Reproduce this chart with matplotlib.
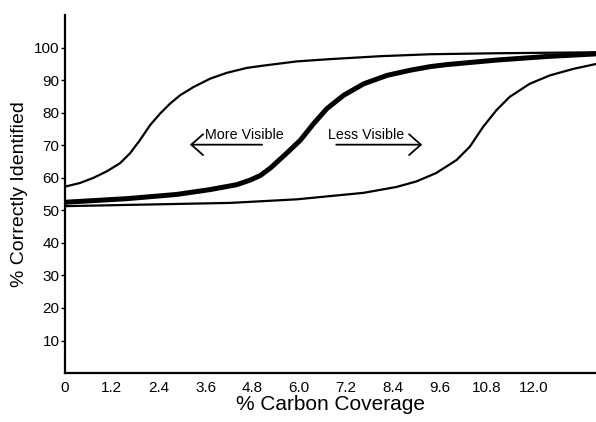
#!/usr/bin/env python3
"""Sigmoid detection curves: % correctly identified vs % carbon coverage."""
import matplotlib
matplotlib.use("Agg")
import matplotlib.pyplot as plt

plt.rcParams["font.family"] = ["Liberation Sans", "DejaVu Sans"]

# values
more_x = [0.0, 0.38, 0.73, 1.07, 1.41, 1.67, 1.92, 2.18, 2.44, 2.69, 2.95, 3.29, 3.72,
          4.15, 4.66, 5.08, 5.94, 6.79, 8.08, 9.36, 11.05, 13.6]
more_y = [57.3, 58.4, 60.0, 62.0, 64.5, 67.6, 71.6, 76.2, 79.8, 82.8, 85.4, 87.9, 90.5,
          92.3, 93.8, 94.5, 95.8, 96.5, 97.4, 98.0, 98.3, 98.6]

base_x = [0.0, 1.58, 2.86, 3.72, 4.4, 4.74, 5.0, 5.26, 5.68, 6.03, 6.37, 6.71, 7.14,
          7.65, 8.25, 8.85, 9.36, 9.77, 11.05, 12.33, 13.6]
base_y = [52.5, 53.6, 54.9, 56.4, 57.9, 59.3, 60.7, 63.0, 67.6, 71.6, 76.7, 81.3, 85.4,
          88.9, 91.5, 93.1, 94.2, 94.8, 96.2, 97.3, 98.1]

less_x = [0.0, 4.23, 5.94, 7.65, 8.49, 9.0, 9.51, 10.03, 10.37, 10.71, 11.05, 11.39,
          11.9, 12.42, 13.02, 13.6]
less_y = [51.3, 52.3, 53.4, 55.4, 57.2, 58.9, 61.5, 65.5, 69.6, 75.7, 80.8, 84.9,
          88.9, 91.5, 93.5, 95.0]

x_ticks = [0, 1.2, 2.4, 3.6, 4.8, 6.0, 7.2, 8.4, 9.6, 10.8, 12.0]
x_labels = ["0", "1.2", "2.4", "3.6", "4.8", "6.0", "7.2", "8.4", "9.6", "10.8", "12.0"]
y_ticks = [10, 20, 30, 40, 50, 60, 70, 80, 90, 100]


def main() -> None:
    fig = plt.figure(figsize=(5.96, 4.22), dpi=100)
    ax = fig.add_axes([0.109, 0.116, 0.891, 0.848])

    ax.plot(more_x, more_y, color="black", lw=1.6, solid_joinstyle="round")
    ax.plot(less_x, less_y, color="black", lw=1.6, solid_joinstyle="round")
    ax.plot(base_x, base_y, color="black", lw=3.6, solid_joinstyle="round")

    ax.set_xlim(0, 13.6)
    ax.set_ylim(0, 110)
    ax.set_xticks(x_ticks)
    ax.set_xticklabels(x_labels)
    ax.set_yticks(y_ticks)

    for side in ["top", "right"]:
        ax.spines[side].set_visible(False)
    for side in ["left", "bottom"]:
        ax.spines[side].set_linewidth(1.6)

    ax.tick_params(axis="x", length=0, pad=6, labelsize=11)
    ax.tick_params(axis="y", length=3, width=1, pad=1, labelsize=11)

    ax.set_xlabel("% Carbon Coverage", fontsize=15, labelpad=0)
    ax.set_ylabel("% Correctly Identified", fontsize=14, labelpad=4)

    arrow = dict(arrowstyle="->,head_length=0.85,head_width=0.75", lw=1.3, color="black",
                 shrinkA=0, shrinkB=0)
    ax.annotate("", xy=(3.2, 70.2), xytext=(5.05, 70.2), arrowprops=arrow)
    ax.annotate("", xy=(9.15, 70.2), xytext=(6.95, 70.2), arrowprops=arrow)
    ax.text(3.59, 73.2, "More Visible", fontsize=10.3, ha="left", va="center")
    ax.text(6.74, 73.2, "Less Visible", fontsize=10.3, ha="left", va="center")

    fig.savefig("out.png", dpi=100)
    plt.close(fig)


if __name__ == "__main__":
    main()
